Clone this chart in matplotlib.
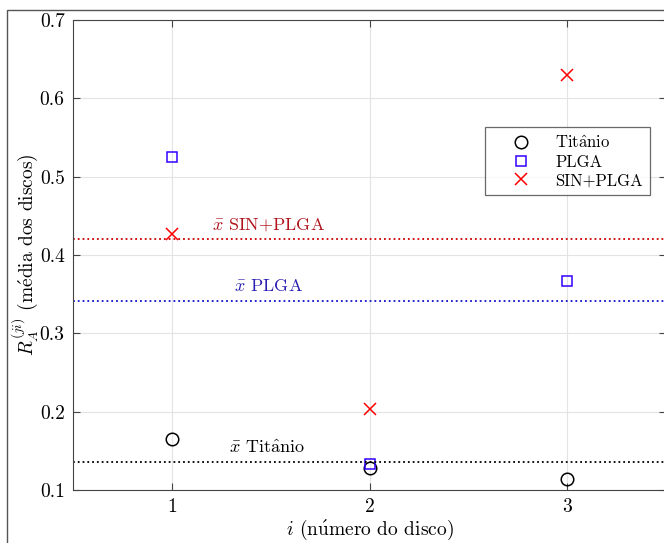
import matplotlib
matplotlib.use('Agg')
import matplotlib.pyplot as plt
from matplotlib.patches import Rectangle

plt.rcParams['font.family'] = ['cmr10', 'DejaVu Serif']
plt.rcParams['mathtext.fontset'] = 'cm'
plt.rcParams['axes.formatter.use_mathtext'] = True

discos = [1, 2, 3]
titanio = [0.165, 0.128, 0.114]
plga = [0.525, 0.133, 0.367]
sin_plga = [0.427, 0.203, 0.630]

nomes = [r'Tit$\mathrm{\hat{a}}$nio', 'PLGA', 'SIN+PLGA']
medias = [sum(v) / len(v) for v in (titanio, plga, sin_plga)]

fig = plt.figure(figsize=(6.64, 5.43), dpi=100)
# frame around the figure
fig.patches.append(Rectangle((7 / 664, -0.1), 1.2, 1 - 10 / 543 + 0.1,
                             transform=fig.transFigure, fill=False,
                             edgecolor='#555555', linewidth=1.0))
ax = fig.add_axes([73 / 664, 1 - 490 / 543, 593 / 664, 470 / 543])

ax.plot(discos, titanio, 'o', ms=9, mfc='none', mec='black', mew=1.1,
        linestyle='none', label=nomes[0])
ax.plot(discos, plga, 's', ms=7, mfc='none', mec='#3300ff', mew=1.1,
        linestyle='none', label=nomes[1])
ax.plot(discos, sin_plga, 'x', ms=9, color='#ff0000', mew=1.1,
        linestyle='none', label=nomes[2])

ax.axhline(medias[0], color='black', linestyle=':', linewidth=1.3)
ax.axhline(medias[1], color='#1010cc', linestyle=':', linewidth=1.3)
ax.axhline(medias[2], color='#cc0000', linestyle=':', linewidth=1.3)

ax.text(1.48, medias[0] + 0.008, r'$\bar{x}$ ' + nomes[0], color='black',
        fontsize=13, ha='center', va='bottom')
ax.text(1.49, medias[1] + 0.008, r'$\bar{x}$ PLGA', color='#2a1fb0',
        fontsize=13, ha='center', va='bottom')
ax.text(1.49, medias[2] + 0.008, r'$\bar{x}$ SIN+PLGA', color='#b0141c',
        fontsize=13, ha='center', va='bottom')

ax.set_xlim(0.5, 3.5)
ax.set_ylim(0.1, 0.7)
ax.set_xticks(discos)
ax.set_xticklabels(['1', '2', '3'])
ax.set_yticks([0.1, 0.2, 0.3, 0.4, 0.5, 0.6, 0.7])
ax.set_yticklabels(['0.1', '0.2', '0.3', '0.4', '0.5', '0.6', '0.7'])
ax.tick_params(direction='in', top=True, right=True, labelsize=14,
               length=5, color='#444444', pad=6)
ax.grid(True, color='#e3e3e3', linewidth=0.8)
ax.set_axisbelow(True)
for s in ax.spines.values():
    s.set_color('#444444')

ax.set_xlabel(r'$i$ (n$\mathrm{\acute{u}}$mero do disco)', fontsize=14,
              labelpad=1)
ax.set_ylabel(r'$R_A^{(ji)}$ (m$\mathrm{\acute{e}}$dia dos discos)',
              fontsize=14, labelpad=0)

leg = ax.legend(loc='upper left', bbox_to_anchor=(404 / 593, 1 - 99 / 470),
                fontsize=12, frameon=True, fancybox=False, edgecolor='#444444',
                borderpad=0.4, handletextpad=0.3, labelspacing=0.2,
                handlelength=3.5)
leg.get_frame().set_linewidth(0.9)

fig.savefig('out.png', dpi=100)
